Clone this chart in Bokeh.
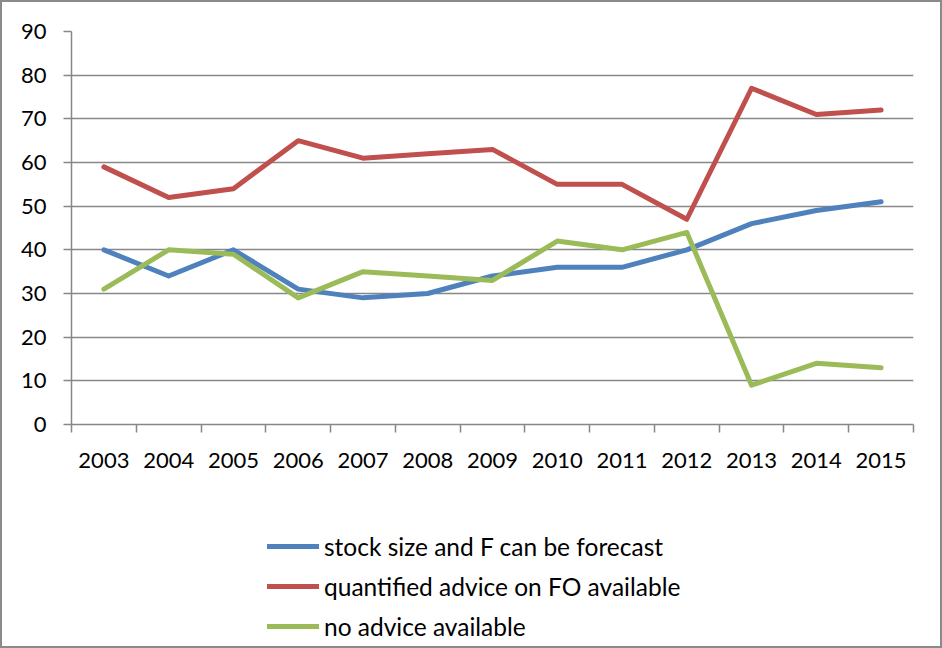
from bokeh.plotting import figure
from bokeh.layouts import column
from bokeh.models import FixedTicker, Legend, LegendItem, Range1d
from bokeh.embed import file_html
from bokeh.resources import INLINE

years = ["2003", "2004", "2005", "2006", "2007", "2008", "2009",
         "2010", "2011", "2012", "2013", "2014", "2015"]
stock_forecast = [40, 34, 40, 31, 29, 30, 34, 36, 36, 40, 46, 49, 51]
quantified_advice = [59, 52, 54, 65, 61, 62, 63, 55, 55, 47, 77, 71, 72]
no_advice = [31, 40, 39, 29, 35, 34, 33, 42, 40, 44, 9, 14, 13]
y_ticks = [0, 10, 20, 30, 40, 50, 60, 70, 80, 90]

series_names = ["stock size and F can be forecast",
                "quantified advice on FO available",
                "no advice available"]
colors = ["#4F81BD", "#C0504D", "#9BBB59"]
series = [stock_forecast, quantified_advice, no_advice]

FONT = "Lato"
GRAY = "#878787"

n = len(years)
xpos = [i + 0.5 for i in range(n)]

# ---------------- main chart ----------------
p = figure(width=938, height=484, output_backend="svg", toolbar_location=None,
           x_range=Range1d(0, n), y_range=Range1d(0, 90),
           min_border_left=69, min_border_right=27, min_border_top=29,
           min_border_bottom=62)
p.outline_line_color = None
p.background_fill_color = "white"
p.border_fill_color = "white"

p.xgrid.grid_line_color = None
p.ygrid.grid_line_color = GRAY
p.ygrid.grid_line_width = 1.5
p.ygrid.ticker = FixedTicker(ticks=y_ticks)

p.yaxis.ticker = FixedTicker(ticks=y_ticks)
p.yaxis.axis_line_color = GRAY
p.yaxis.axis_line_width = 1.5
p.yaxis.major_tick_line_color = GRAY
p.yaxis.major_tick_line_width = 1.5
p.yaxis.major_tick_out = 8
p.yaxis.major_tick_in = 0
p.yaxis.minor_tick_line_color = None
p.yaxis.major_label_standoff = 17
p.yaxis.major_label_text_font = FONT
p.yaxis.major_label_text_font_size = "22px"
p.yaxis.major_label_text_color = "black"

boundaries = list(range(n + 1))
p.xaxis.ticker = FixedTicker(ticks=xpos, minor_ticks=boundaries)
p.xaxis.major_label_overrides = {x: y for x, y in zip(xpos, years)}
p.xaxis.axis_line_color = GRAY
p.xaxis.axis_line_width = 1.5
p.xaxis.major_tick_line_color = None
p.xaxis.major_tick_out = 0
p.xaxis.major_tick_in = 0
p.xaxis.minor_tick_line_color = GRAY
p.xaxis.minor_tick_line_width = 1.5
p.xaxis.minor_tick_out = 8
p.xaxis.minor_tick_in = 0
p.xaxis.major_label_standoff = 20
p.xaxis.major_label_text_font = FONT
p.xaxis.major_label_text_font_size = "22px"
p.xaxis.major_label_text_color = "black"

for vals, c in zip(series, colors):
    p.line(xpos, vals, line_color=c, line_width=5,
           line_join="round", line_cap="round")

# ---------------- legend panel ----------------
lg = figure(width=938, height=160, output_backend="svg", toolbar_location=None,
            x_range=Range1d(0, n), y_range=Range1d(1000, 1001),
            min_border_left=0, min_border_right=0, min_border_top=0,
            min_border_bottom=0)
lg.axis.visible = False
lg.grid.visible = False
lg.outline_line_color = None
lg.background_fill_color = "white"
lg.border_fill_color = "white"

legend_renderers = []
for vals, c in zip(series, colors):
    r = lg.line(xpos, vals, line_color=c, line_width=5,
                line_join="round", line_cap="round")
    legend_renderers.append(r)

legend = Legend(
    items=[LegendItem(label=nm, renderers=[r]) for nm, r in zip(series_names, legend_renderers)],
    location=(196, 5),
    orientation="vertical",
    glyph_width=52, glyph_height=30, label_height=30,
    label_standoff=5, spacing=10, padding=0, margin=0,
    border_line_color=None, background_fill_alpha=0,
    label_text_font=FONT, label_text_font_size="24.5px", label_text_color="black",
    label_text_baseline="middle",
)
lg.add_layout(legend, "center")

layout = column(p, lg, spacing=0, styles={"border": "2px solid #8a8a8a"})
open("out.html", "w").write(file_html(layout, INLINE))
